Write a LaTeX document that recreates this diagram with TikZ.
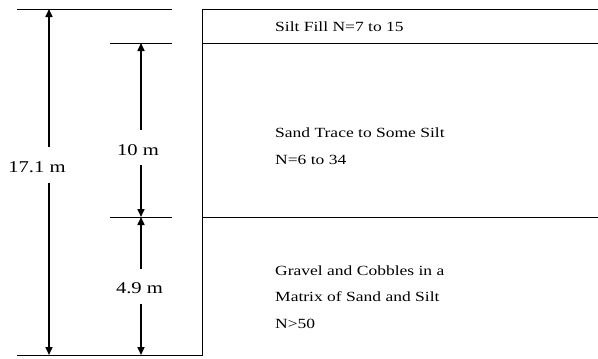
\documentclass[tikz,border=0pt]{standalone}
\usepackage{fontspec}
\setmainfont[FakeStretch=1.25]{Liberation Serif}
\usepackage{tikz}
\usetikzlibrary{arrows.meta, positioning, calc}
\tikzset{
	layer/.style    ={anchor=west, align=left, inner sep=0pt, font=\fontsize{14}{26.5}\selectfont},
	dimlabel/.style ={inner sep=0pt, font=\fontsize{16.5}{18}\selectfont},
	dimarrow/.style ={-{Triangle[length=8pt, width=7pt]}, line width=1.6pt},
	bound/.style    ={line width=0.9pt},
}
\begin{document}
\begin{tikzpicture}[x=1pt, y=-1pt]
	\useasboundingbox (0,0) rectangle (598,359);
	% soil column
	\coordinate (cTL) at (202,9);
	\coordinate (cBL) at (202,355);
	\draw[bound] (598,9) -- (cTL) -- (cBL) -- (17,355);
	\draw[bound] (17,9) -- (172,9);
	\draw[bound] (110,43) -- (172,43);
	\draw[bound] (110,217) -- (172,217);
	\draw[bound] (202,43) -- (598,43);
	\draw[bound] (202,217) -- (598,217);
	% layer descriptions
	\node[layer] (silt) at (275,27) {Silt Fill N=7 to 15};
	\node[layer] (sand) at (275,146) {Sand Trace to Some Silt\\N=6 to 34};
	\node[layer] (gravel) at (275,297) {Gravel and Cobbles in a\\Matrix of Sand and Silt\\N>50};
	% dimensions
	\node[dimlabel] (total) at (37,167) {17.1 m};
	\node[dimlabel] (upper) at (138,150) {10 m};
	\node[dimlabel] (lower) at (139.5,288) {4.9 m};
	\draw[dimarrow] (49,147) -- (49,9);
	\draw[dimarrow] (49,183) -- (49,355);
	\draw[dimarrow] (141,130) -- (141,43);
	\draw[dimarrow] (141,165) -- (141,217);
	\draw[dimarrow] (141,269) -- (141,217);
	\draw[dimarrow] (141,304) -- (141,355);
\end{tikzpicture}
\end{document}
